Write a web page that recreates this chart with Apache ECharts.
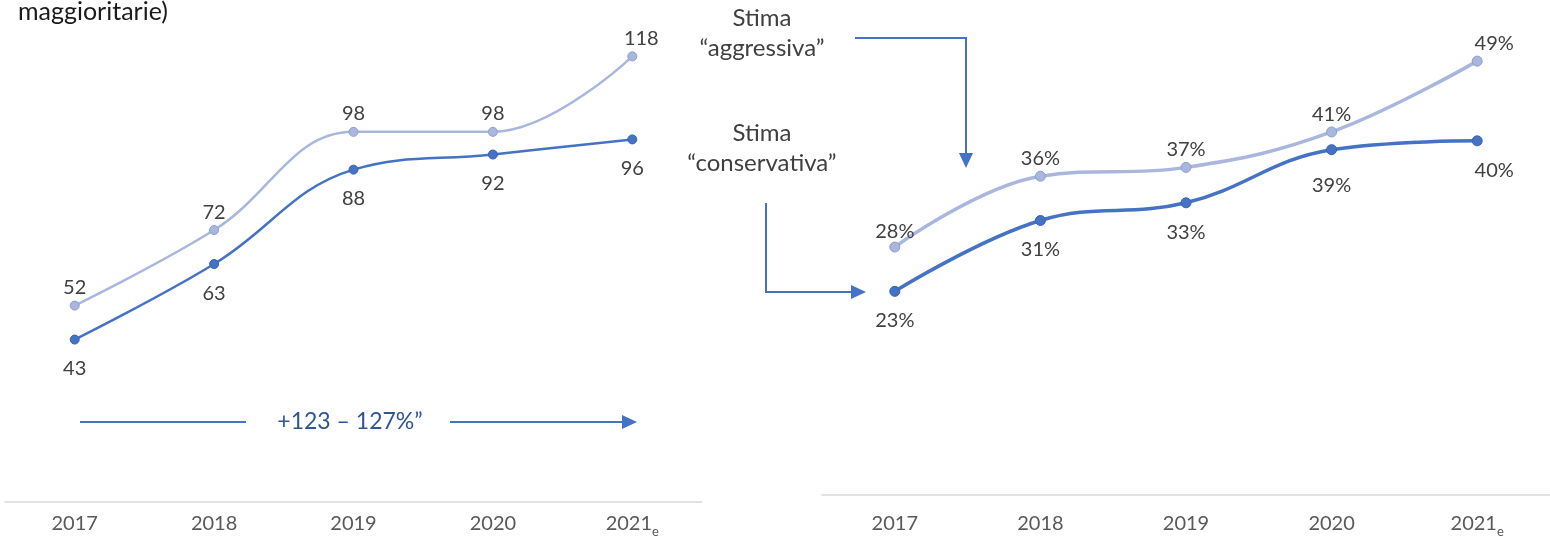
<!DOCTYPE html>
<html>
<head>
<meta charset="utf-8">
<script src="https://cdn.jsdelivr.net/npm/echarts@6/dist/echarts.min.js"></script>
<style>
  html, body { margin: 0; padding: 0; background: #ffffff; }
  #chart { width: 1550px; height: 540px; }
</style>
</head>
<body>
<div id="chart"></div>
<script>
// ---- data ----
const years = ['2017', '2018', '2019', '2020', '2021e'];
const leftAggressive = [52, 72, 98, 98, 118];
const leftConservative = [43, 63, 88, 92, 96];
const rightAggressive = [28, 36, 37, 41, 49];
const rightConservative = [23, 31, 33, 39, 40];
const growthText = '+123 – 127%”';
const titleFragment = 'maggioritarie)';
const labelAggressive = ['Stima', '“aggressiva”'];
const labelConservative = ['Stima', '“conservativa”'];

// ---- styles ----
const FONT = 'Lato, "Open Sans", sans-serif';
const DARK = '#4472c4';
const LIGHT = '#a9b7de';
const LIGHT_BORDER = '#8d9fd0';
const TXT = '#404040';
const LBL = 20;

const chart = echarts.init(document.getElementById('chart'), null, { renderer: 'canvas' });

function xAxisCfg(gridIndex, margin) {
  return {
    type: 'category', gridIndex: gridIndex, data: years, boundaryGap: true,
    axisLine: { show: true, lineStyle: { color: '#d9d9d9', width: 1.5 } },
    axisTick: { show: false },
    axisLabel: {
      interval: 0, hideOverlap: false,
      margin: margin, color: '#595959', fontFamily: FONT, fontSize: 20,
      formatter: function (v) {
        if (v.slice(-1) === 'e') return '{n|' + v.slice(0, -1) + '}{s|e}';
        return '{n|' + v + '}';
      },
      rich: {
        n: { fontSize: 20, color: '#595959', fontFamily: FONT, verticalAlign: 'top', lineHeight: 24 },
        s: { fontSize: 13, color: '#595959', fontFamily: FONT, verticalAlign: 'top', lineHeight: 24, padding: [11, 0, 0, 0] }
      }
    },
    splitLine: { show: false }
  };
}
function yAxisCfg(gridIndex, max) {
  return {
    type: 'value', gridIndex: gridIndex, min: 0, max: max,
    show: false, splitLine: { show: false }
  };
}

function lineSeries(data, xi, light, width, symSize, pos, dist, fmt, extraOffsets) {
  return {
    type: 'line', xAxisIndex: xi, yAxisIndex: xi, smooth: 0.4,
    data: data.map(function (v, i) {
      const o = extraOffsets && extraOffsets[i];
      const d = { value: v };
      if (o) d.label = { offset: o.offset || [0, 0], distance: o.distance !== undefined ? o.distance : dist };
      return d;
    }),
    symbol: 'circle', symbolSize: symSize,
    lineStyle: { color: light ? LIGHT : DARK, width: width },
    itemStyle: { color: light ? LIGHT : DARK, borderColor: light ? LIGHT_BORDER : '#3a63ad', borderWidth: 1 },
    label: {
      show: true, position: pos, distance: dist, color: TXT, fontFamily: FONT, fontSize: LBL,
      formatter: fmt
    },
    z: light ? 2 : 3,
    animation: false
  };
}

const pct = function (p) { return p.value + '%'; };
const num = function (p) { return String(p.value); };

const option = {
  backgroundColor: '#ffffff',
  animation: false,
  grid: [
    { left: 5, width: 697, top: 11, height: 491 },
    { left: 822, width: 732, top: 8, height: 487 }
  ],
  xAxis: [xAxisCfg(0, 12), xAxisCfg(1, 19)],
  yAxis: [yAxisCfg(0, 130), yAxisCfg(1, 55)],
  series: [
    lineSeries(leftAggressive, 0, true, 2.5, 9, 'top', 3, num, { 4: { offset: [9, 0] } }),
    lineSeries(leftConservative, 0, false, 2.5, 9, 'bottom', 14, num, null),
    lineSeries(rightAggressive, 1, true, 3.5, 10, 'top', 2, pct, { 0: { distance: 0 }, 4: { offset: [17, 0] } }),
    lineSeries(rightConservative, 1, false, 3.5, 10, 'bottom', 14, pct, { 3: { distance: 20 }, 4: { offset: [17, 0] } })
  ],
  graphic: [
    { type: 'text', x: 18, y: 12, style: { text: titleFragment, fill: '#1a1a1a', font: '25px ' + FONT, verticalAlign: 'middle' } },
    { type: 'text', x: 762, y: 3, style: { text: labelAggressive.join('\n'), fill: TXT, font: '24px ' + FONT, align: 'center', lineHeight: 30 } },
    { type: 'text', x: 762, y: 118, style: { text: labelConservative.join('\n'), fill: TXT, font: '24px ' + FONT, align: 'center', lineHeight: 30 } },
    // aggressive arrow
    { type: 'polyline', shape: { points: [[855, 38], [966, 38], [966, 155]] }, style: { stroke: DARK, lineWidth: 2, fill: null } },
    { type: 'polygon', shape: { points: [[959, 153], [973, 153], [966, 168]] }, style: { fill: DARK } },
    // conservative arrow
    { type: 'polyline', shape: { points: [[766, 203], [766, 292], [852, 292]] }, style: { stroke: DARK, lineWidth: 2, fill: null } },
    { type: 'polygon', shape: { points: [[851, 285], [851, 299], [866, 292]] }, style: { fill: DARK } },
    // growth arrow (left)
    { type: 'line', shape: { x1: 80, y1: 422, x2: 246, y2: 422 }, style: { stroke: DARK, lineWidth: 2 } },
    { type: 'text', x: 350, y: 422, style: { text: growthText, fill: '#2f5597', font: '23px ' + FONT, align: 'center', verticalAlign: 'middle' } },
    { type: 'line', shape: { x1: 450, y1: 422, x2: 624, y2: 422 }, style: { stroke: DARK, lineWidth: 2 } },
    { type: 'polygon', shape: { points: [[622, 415], [622, 429], [637, 422]] }, style: { fill: DARK } }
  ]
};

chart.setOption(option);
</script>
</body>
</html>
